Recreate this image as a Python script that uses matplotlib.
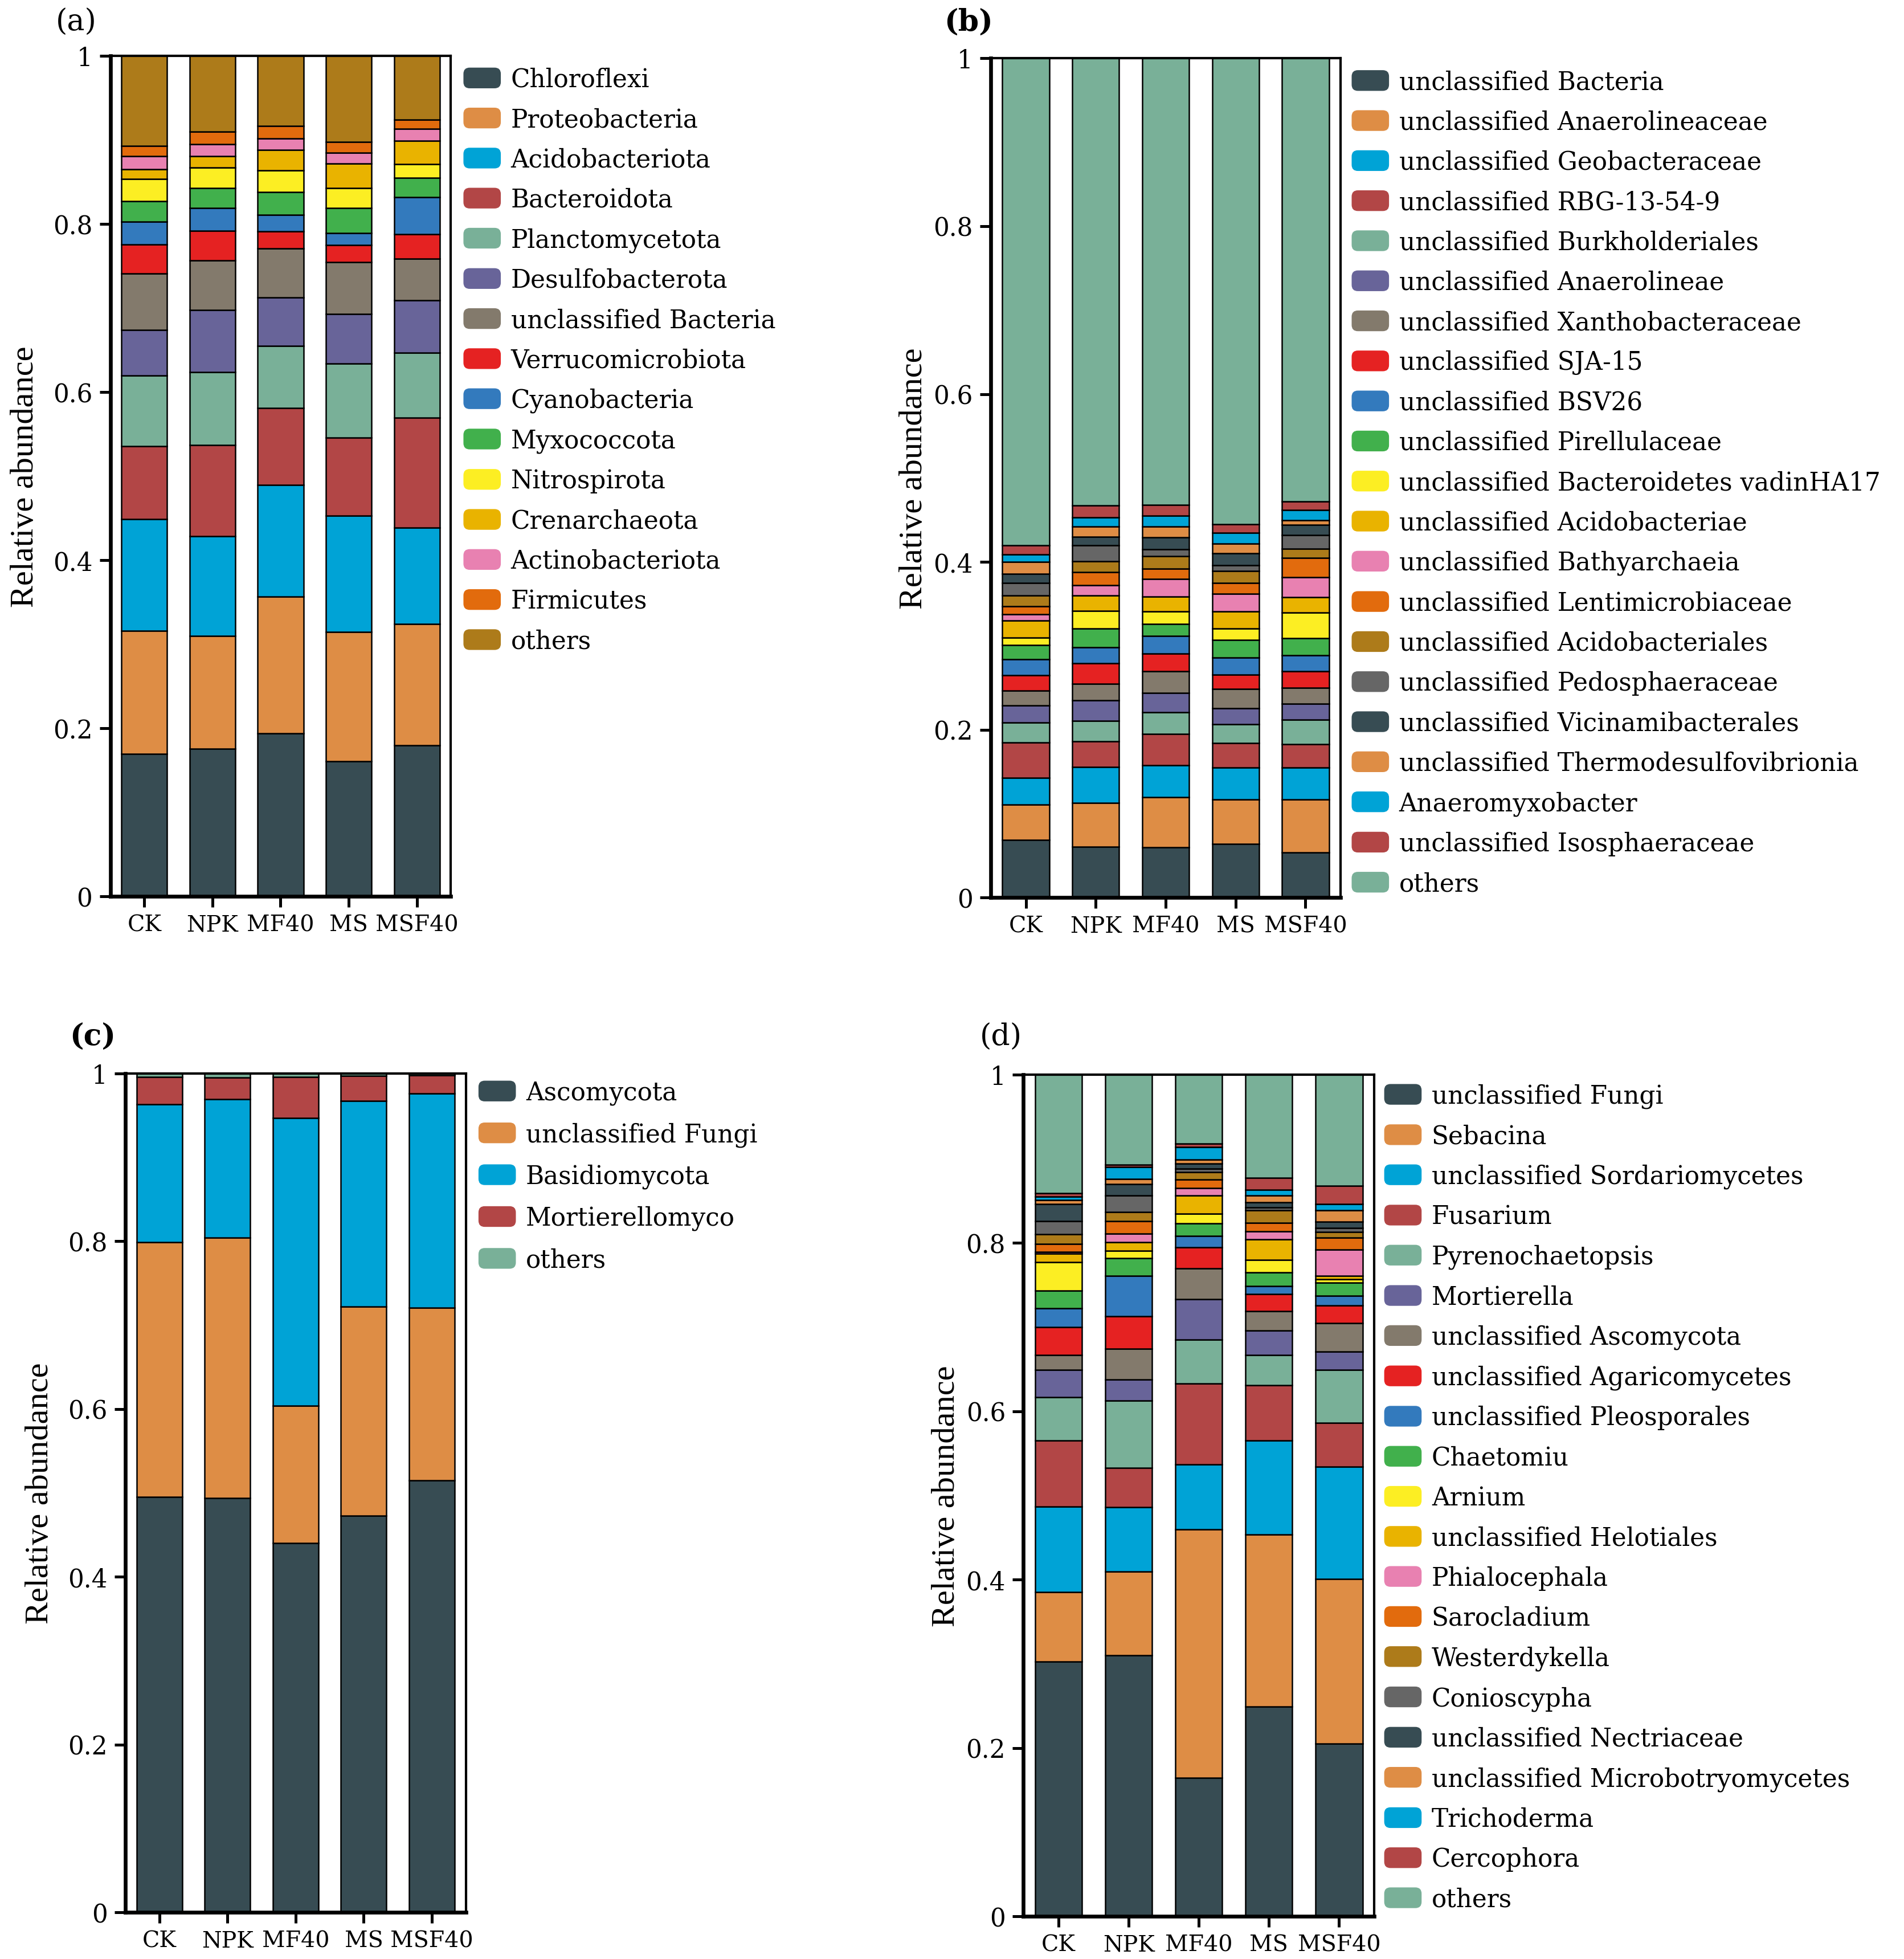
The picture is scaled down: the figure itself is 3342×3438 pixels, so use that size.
import numpy as np
import matplotlib
matplotlib.use('Agg')
import matplotlib.pyplot as plt
from matplotlib.patches import Patch, FancyBboxPatch
from matplotlib.legend_handler import HandlerPatch

plt.rcParams['font.family'] = ['DejaVu Serif']

treatments = ['CK', 'NPK', 'MF40', 'MS', 'MSF40']
ytick_vals = [0, 0.2, 0.4, 0.6, 0.8, 1.0]
ytick_text = ['0', '0.2', '0.4', '0.6', '0.8', '1']

# shared palette (bottom -> top of stack)
palette = ['#374c53', '#de8d45', '#00a3d6', '#b24646', '#79b098', '#686499',
           '#837a6c', '#e52222', '#337abd', '#41b04c', '#fcee23', '#e9b300',
           '#e881b1', '#e26b0d', '#ad7b1a', '#666666']

# (a) bacteria, phylum
a_taxa = ['Chloroflexi', 'Proteobacteria', 'Acidobacteriota', 'Bacteroidota',
          'Planctomycetota', 'Desulfobacterota', 'unclassified Bacteria',
          'Verrucomicrobiota', 'Cyanobacteria', 'Myxococcota', 'Nitrospirota',
          'Crenarchaeota', 'Actinobacteriota', 'Firmicutes', 'others']
a_colors = palette[:14] + ['#ad7b1a']
# top of each segment per treatment (last segment 'others' goes to 1)
a_tops = [
    [0.170, 0.316, 0.449, 0.536, 0.620, 0.674, 0.741, 0.776, 0.803, 0.827, 0.854, 0.865, 0.881, 0.893],
    [0.176, 0.310, 0.429, 0.537, 0.624, 0.698, 0.757, 0.792, 0.819, 0.843, 0.867, 0.881, 0.895, 0.910],
    [0.194, 0.357, 0.490, 0.581, 0.655, 0.713, 0.771, 0.791, 0.811, 0.838, 0.864, 0.888, 0.902, 0.917],
    [0.161, 0.315, 0.453, 0.546, 0.634, 0.693, 0.755, 0.775, 0.789, 0.819, 0.843, 0.872, 0.885, 0.898],
    [0.180, 0.324, 0.439, 0.570, 0.647, 0.709, 0.759, 0.788, 0.832, 0.855, 0.871, 0.899, 0.913, 0.924],
]

# (b) bacteria, genus
b_taxa = ['unclassified Bacteria', 'unclassified Anaerolineaceae', 'unclassified Geobacteraceae',
          'unclassified RBG-13-54-9', 'unclassified Burkholderiales', 'unclassified Anaerolineae',
          'unclassified Xanthobacteraceae', 'unclassified SJA-15', 'unclassified BSV26',
          'unclassified Pirellulaceae', 'unclassified Bacteroidetes vadinHA17',
          'unclassified Acidobacteriae', 'unclassified Bathyarchaeia',
          'unclassified Lentimicrobiaceae', 'unclassified Acidobacteriales',
          'unclassified Pedosphaeraceae', 'unclassified Vicinamibacterales',
          'unclassified Thermodesulfovibrionia', 'Anaeromyxobacter',
          'unclassified Isosphaeraceae', 'others']
b_colors = palette + palette[:5]
b_tops = [
    [0.069, 0.111, 0.143, 0.185, 0.209, 0.229, 0.247, 0.265, 0.284, 0.301, 0.310, 0.330, 0.338, 0.347, 0.360, 0.375, 0.386, 0.400, 0.409, 0.420],
    [0.061, 0.113, 0.156, 0.186, 0.211, 0.235, 0.255, 0.279, 0.298, 0.321, 0.342, 0.360, 0.372, 0.388, 0.401, 0.420, 0.430, 0.442, 0.453, 0.467],
    [0.060, 0.120, 0.158, 0.195, 0.221, 0.244, 0.270, 0.291, 0.312, 0.326, 0.341, 0.359, 0.380, 0.392, 0.407, 0.415, 0.429, 0.442, 0.455, 0.468],
    [0.064, 0.117, 0.155, 0.184, 0.207, 0.226, 0.249, 0.266, 0.286, 0.307, 0.321, 0.341, 0.362, 0.375, 0.389, 0.396, 0.410, 0.422, 0.435, 0.445],
    [0.054, 0.117, 0.155, 0.183, 0.212, 0.231, 0.250, 0.270, 0.289, 0.309, 0.340, 0.358, 0.382, 0.405, 0.416, 0.432, 0.444, 0.450, 0.462, 0.472],
]

# (c) fungi, phylum
c_taxa = ['Ascomycota', 'unclassified Fungi', 'Basidiomycota', 'Mortierellomyco', 'others']
c_colors = palette[:5]
c_tops = [
    [0.495, 0.799, 0.963, 0.996],
    [0.494, 0.804, 0.969, 0.995],
    [0.440, 0.604, 0.947, 0.996],
    [0.473, 0.722, 0.967, 0.997],
    [0.515, 0.721, 0.976, 0.998],
]

# (d) fungi, genus
d_taxa = ['unclassified Fungi', 'Sebacina', 'unclassified Sordariomycetes', 'Fusarium',
          'Pyrenochaetopsis', 'Mortierella', 'unclassified Ascomycota',
          'unclassified Agaricomycetes', 'unclassified Pleosporales', 'Chaetomiu',
          'Arnium', 'unclassified Helotiales', 'Phialocephala', 'Sarocladium',
          'Westerdykella', 'Conioscypha', 'unclassified Nectriaceae',
          'unclassified Microbotryomycetes', 'Trichoderma', 'Cercophora', 'others']
d_colors = palette + palette[:5]
d_tops = [
    [0.303, 0.385, 0.487, 0.565, 0.617, 0.649, 0.667, 0.700, 0.722, 0.743, 0.777, 0.787, 0.789, 0.799, 0.810, 0.826, 0.846, 0.851, 0.855, 0.859],
    [0.310, 0.410, 0.486, 0.533, 0.613, 0.638, 0.674, 0.713, 0.761, 0.782, 0.791, 0.801, 0.811, 0.826, 0.837, 0.856, 0.870, 0.876, 0.890, 0.893],
    [0.165, 0.460, 0.537, 0.633, 0.685, 0.733, 0.770, 0.795, 0.808, 0.823, 0.835, 0.856, 0.865, 0.875, 0.884, 0.888, 0.894, 0.899, 0.914, 0.918],
    [0.249, 0.454, 0.565, 0.631, 0.667, 0.696, 0.719, 0.739, 0.749, 0.765, 0.780, 0.804, 0.814, 0.824, 0.839, 0.842, 0.848, 0.856, 0.863, 0.877],
    [0.205, 0.401, 0.534, 0.586, 0.649, 0.671, 0.705, 0.726, 0.737, 0.753, 0.757, 0.761, 0.792, 0.806, 0.813, 0.818, 0.825, 0.839, 0.846, 0.868],
]


class RoundHandler(HandlerPatch):
    def create_artists(self, legend, orig_handle, xdescent, ydescent,
                       width, height, fontsize, trans):
        p = FancyBboxPatch((-xdescent, -ydescent), width, height,
                           boxstyle='round,pad=0,rounding_size=%f' % (height * 0.3),
                           facecolor=orig_handle.get_facecolor(),
                           edgecolor='none', transform=trans)
        return [p]


def stacked(fig, rect, taxa, colors, tops, leg_xy, ylab_x, labelspacing):
    ax = fig.add_axes(rect)
    x = np.arange(len(treatments))
    tops = np.array(tops)
    full = np.hstack([np.zeros((len(treatments), 1)), tops, np.ones((len(treatments), 1))])
    for k in range(len(taxa)):
        ax.bar(x, full[:, k + 1] - full[:, k], bottom=full[:, k], width=0.67,
               color=colors[k], edgecolor='black', linewidth=0.6)
    ax.set_xlim(-0.5, 4.5)
    ax.set_ylim(0, 1)
    ax.set_xticks(x)
    ax.set_xticklabels(treatments, fontsize=9.5)
    ax.set_yticks(ytick_vals)
    ax.set_yticklabels(ytick_text, fontsize=10.5)
    ax.tick_params(direction='out', length=4.5, width=1.2, pad=3)
    for s in ['left', 'bottom']:
        ax.spines[s].set_linewidth(1.6)
    for s in ['top', 'right']:
        ax.spines[s].set_linewidth(1.0)
    ax.set_ylabel('Relative abundance', family='Liberation Serif', fontsize=14, va='center')
    ax.yaxis.set_label_coords(ylab_x, 0.5)
    handles = [Patch(facecolor=c) for c in colors]
    fig.legend(handles, taxa, loc='upper left', bbox_to_anchor=leg_xy,
               bbox_transform=fig.transFigure, frameon=False, fontsize=10.5,
               handlelength=1.5, handleheight=0.9, handletextpad=0.4,
               labelspacing=labelspacing, borderpad=0, borderaxespad=0,
               handler_map={Patch: RoundHandler()})
    return ax


fig = plt.figure(figsize=(11.14, 11.463), dpi=300)

stacked(fig, [0.0579, 0.5422, 0.1789, 0.429], a_taxa, a_colors, a_tops,
        (0.2434, 0.9655), -0.25, 0.62)
stacked(fig, [0.5204, 0.5416, 0.1836, 0.4284], b_taxa, b_colors, b_tops,
        (0.7099, 0.9642), -0.22, 0.62)
stacked(fig, [0.0658, 0.0237, 0.1789, 0.4283], c_taxa, c_colors, c_tops,
        (0.2513, 0.4485), -0.25, 0.68)
stacked(fig, [0.5375, 0.0217, 0.1842, 0.4297], d_taxa, d_colors, d_tops,
        (0.727, 0.4468), -0.22, 0.62)

fig.text(0.040, 0.9885, '(a)', ha='center', va='center', fontsize=12.5)
fig.text(0.5086, 0.9885, '(b)', ha='center', va='center', fontsize=12.5, weight='bold')
fig.text(0.0487, 0.4706, '(c)', ha='center', va='center', fontsize=12.5, weight='bold')
fig.text(0.5257, 0.4706, '(d)', ha='center', va='center', fontsize=12.5)

fig.savefig('out.png', dpi=300)
